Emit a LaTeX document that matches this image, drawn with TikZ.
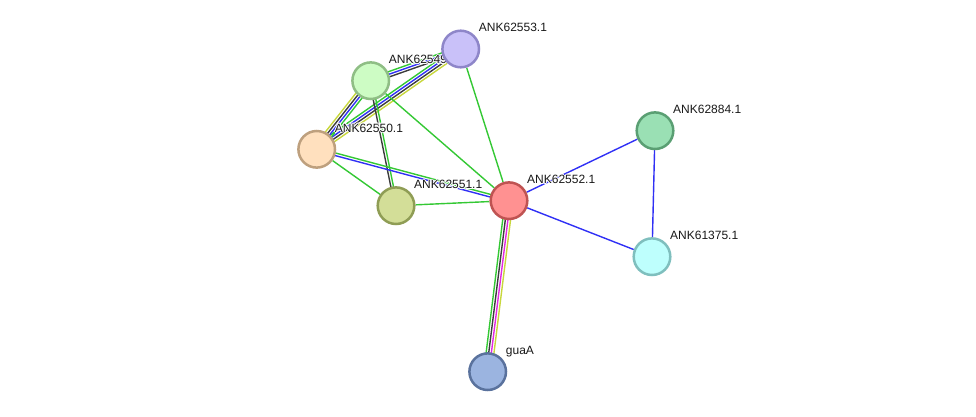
\documentclass[tikz,border=0pt]{standalone}
\usepackage{fontspec}
\setmainfont{Liberation Sans}
\usetikzlibrary{calc}
\pgfdeclarelayer{edges}
\pgfdeclarelayer{labels}
\pgfsetlayers{edges,labels,main}

\definecolor{cgreen}{RGB}{52,200,52}
\definecolor{cblue}{RGB}{48,48,245}
\definecolor{cblack}{RGB}{60,60,60}
\definecolor{cyellow}{RGB}{200,215,60}
\definecolor{cmagenta}{RGB}{225,40,225}
\definecolor{labtext}{RGB}{25,25,25}

\tikzset{
  prot/.style={circle, minimum size=36.6pt, inner sep=0pt, line width=2.5pt},
  edge/.style={line width=1.4pt},
  lab/.style={anchor=base west, inner sep=0pt, font=\fontsize{12}{14}\selectfont, text=labtext},
  halo/.style={lab, text=white}
}

\newcommand\multiedge[3]{%
  \foreach \c [count=\i] in {#3} {\xdef\nlines{\i}}%
  \foreach \c [count=\i] in {#3} {%
    \pgfmathsetmacro\off{((\nlines+1)/2-\i)*2.6}%
    \draw[edge,draw=\c] ($(#1)!\off pt!90:(#2)$) -- ($(#2)!\off pt!-90:(#1)$);
  }%
}
\newcommand\plabel[2]{%
  \foreach \dx/\dy [count=\k] in {0.8/0,-0.8/0,0/0.8,0/-0.8,0.6/0.6,0.6/-0.6,-0.6/0.6,-0.6/-0.6}
    \node[halo] (#1h\k) at ($(#1)+(18+\dx,-17+\dy)$) {#2};
  \node[lab] (#1l) at ($(#1)+(18,-17)$) {#2};
}

\begin{document}
\begin{tikzpicture}[x=1pt,y=-1pt]
\useasboundingbox (0,0) rectangle (976,417);

\node[prot, fill={rgb,255:red,201;green,193;blue,249}, draw={rgb,255:red,142;green,134;blue,201}] (n53) at (460.7,49) {};
\node[prot, fill={rgb,255:red,205;green,252;blue,196}, draw={rgb,255:red,143;green,190;blue,133}] (n49) at (370.7,80.7) {};
\node[prot, fill={rgb,255:red,255;green,224;blue,190}, draw={rgb,255:red,190;green,160;blue,126}] (n50) at (316.7,149.3) {};
\node[prot, fill={rgb,255:red,211;green,222;blue,152}, draw={rgb,255:red,143;green,157;blue,85}] (n51) at (396,205.7) {};
\node[prot, fill={rgb,255:red,255;green,145;blue,145}, draw={rgb,255:red,191;green,83;blue,82}] (n52) at (509,200.7) {};
\node[prot, fill={rgb,255:red,154;green,224;blue,180}, draw={rgb,255:red,90;green,159;blue,115}] (n84) at (655,130.7) {};
\node[prot, fill={rgb,255:red,190;green,255;blue,253}, draw={rgb,255:red,127;green,191;blue,190}] (n75) at (652,256.7) {};
\node[prot, fill={rgb,255:red,155;green,180;blue,224}, draw={rgb,255:red,90;green,114;blue,157}] (gua) at (487.7,371.7) {};

\begin{pgfonlayer}{edges}
  \multiedge{n50}{n53}{cgreen,cblue,cblack,cyellow}
  \multiedge{n49}{n53}{cgreen,cblue,cblack}
  \multiedge{n49}{n50}{cgreen,cblue,cblack,cyellow}
  \multiedge{n49}{n51}{cgreen,cblack}
  \multiedge{n50}{n52}{cgreen,cblue}
  \multiedge{n52}{gua}{cyellow,cmagenta,cblack,cgreen}
  \draw[edge,cgreen] (n53) -- (n52);
  \draw[edge,cgreen] (n49) -- (n52);
  \draw[edge,cgreen] (n50) -- (n51);
  \draw[edge,cgreen] (n51) -- (n52);
  \draw[edge,cblue] (n52) -- (n84);
  \draw[edge,cblue] (n52) -- (n75);
  \draw[edge,cblue] (n84) -- (n75);
\end{pgfonlayer}

\begin{pgfonlayer}{labels}
  \plabel{n53}{ANK62553.1}
  \plabel{n49}{ANK62549.1}
  \plabel{n50}{ANK62550.1}
  \plabel{n51}{ANK62551.1}
  \plabel{n52}{ANK62552.1}
  \plabel{n84}{ANK62884.1}
  \plabel{n75}{ANK61375.1}
  \plabel{gua}{guaA}
\end{pgfonlayer}
\end{tikzpicture}
\end{document}
